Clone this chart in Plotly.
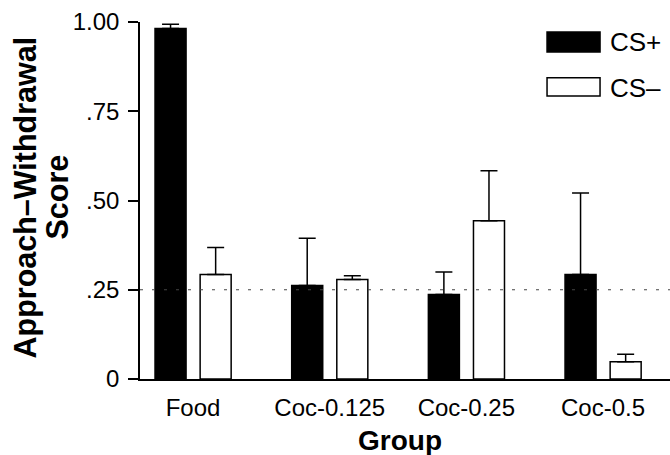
import plotly.graph_objects as go

groups = ["Food", "Coc-0.125", "Coc-0.25", "Coc-0.5"]
cs_plus = [0.982, 0.262, 0.237, 0.293]
cs_plus_err = [0.012, 0.132, 0.063, 0.228]
cs_minus = [0.293, 0.279, 0.443, 0.048]
cs_minus_err = [0.075, 0.010, 0.140, 0.021]
ytick_vals = [0, 0.25, 0.5, 0.75, 1.0]
ytick_text = ["0", ".25", ".50", ".75", "1.00"]
chance_level = 0.25

FONT = "Liberation Sans, Arial, Helvetica, sans-serif"

fig = go.Figure()
fig.add_trace(go.Bar(
    x=groups, y=cs_plus, name="CS+",
    width=0.227, offset=-0.278,
    marker=dict(color="black", line=dict(color="black", width=1.5)),
    error_y=dict(type="data", symmetric=False, array=cs_plus_err,
                 arrayminus=[0] * len(cs_plus_err),
                 color="black", thickness=1.5, width=8.5),
    showlegend=False,
))
fig.add_trace(go.Bar(
    x=groups, y=cs_minus, name="CS–",
    width=0.227, offset=0.052,
    marker=dict(color="white", line=dict(color="black", width=1.5)),
    error_y=dict(type="data", symmetric=False, array=cs_minus_err,
                 arrayminus=[0] * len(cs_minus_err),
                 color="black", thickness=1.5, width=8.5),
    showlegend=False,
))

# chance line
fig.add_shape(type="line", xref="paper", yref="y", x0=0, x1=1,
              y0=chance_level, y1=chance_level,
              line=dict(color="#444444", width=1, dash="3px,9px"), layer="above")

# manual legend
fig.add_shape(type="rect", xref="paper", yref="paper", x0=0.768, x1=0.868,
              y0=0.916, y1=0.972, fillcolor="black",
              line=dict(color="black", width=1.5))
fig.add_shape(type="rect", xref="paper", yref="paper", x0=0.768, x1=0.868,
              y0=0.793, y1=0.844, fillcolor="white",
              line=dict(color="black", width=1.5))
fig.add_annotation(xref="paper", yref="paper", x=0.883, y=0.944, text="CS+",
                   showarrow=False, xanchor="left", yanchor="middle",
                   font=dict(family=FONT, size=26, color="black"))
fig.add_annotation(xref="paper", yref="paper", x=0.883, y=0.815, text="CS–",
                   showarrow=False, xanchor="left", yanchor="middle",
                   font=dict(family=FONT, size=26, color="black"))

# axis titles
fig.add_annotation(xref="paper", yref="paper", x=0, y=0.5, xshift=-115, yshift=3,
                   text="<b>Approach–Withdrawal</b>", textangle=-90,
                   showarrow=False, xanchor="center", yanchor="middle",
                   font=dict(family=FONT, size=30.5, color="black"))
fig.add_annotation(xref="paper", yref="paper", x=0, y=0.5, xshift=-84, yshift=3,
                   text="<b>Score</b>", textangle=-90,
                   showarrow=False, xanchor="center", yanchor="middle",
                   font=dict(family=FONT, size=30.5, color="black"))
fig.add_annotation(xref="paper", yref="paper", x=0.4906, y=0, yshift=-61,
                   text="<b>Group</b>", showarrow=False,
                   xanchor="center", yanchor="middle",
                   font=dict(family=FONT, size=28, color="black"))

fig.update_layout(
    width=670, height=455,
    margin=dict(l=140, r=0, t=22, b=76),
    paper_bgcolor="white", plot_bgcolor="white",
    barmode="overlay",
    font=dict(family=FONT, color="black"),
    xaxis=dict(range=[-0.388, 3.49], showline=True, linecolor="black",
               linewidth=1.5, ticks="", showgrid=False, zeroline=False,
               tickfont=dict(size=24), ticklabelstandoff=6),
    yaxis=dict(range=[0, 1.0], showline=True, linecolor="black",
               linewidth=1.5, ticks="outside", ticklen=10, tickwidth=1.5,
               tickcolor="black", tickvals=ytick_vals, ticktext=ytick_text,
               showgrid=False, zeroline=False, tickfont=dict(size=24),
               ticklabelstandoff=4),
)

fig.write_html("out.html")
